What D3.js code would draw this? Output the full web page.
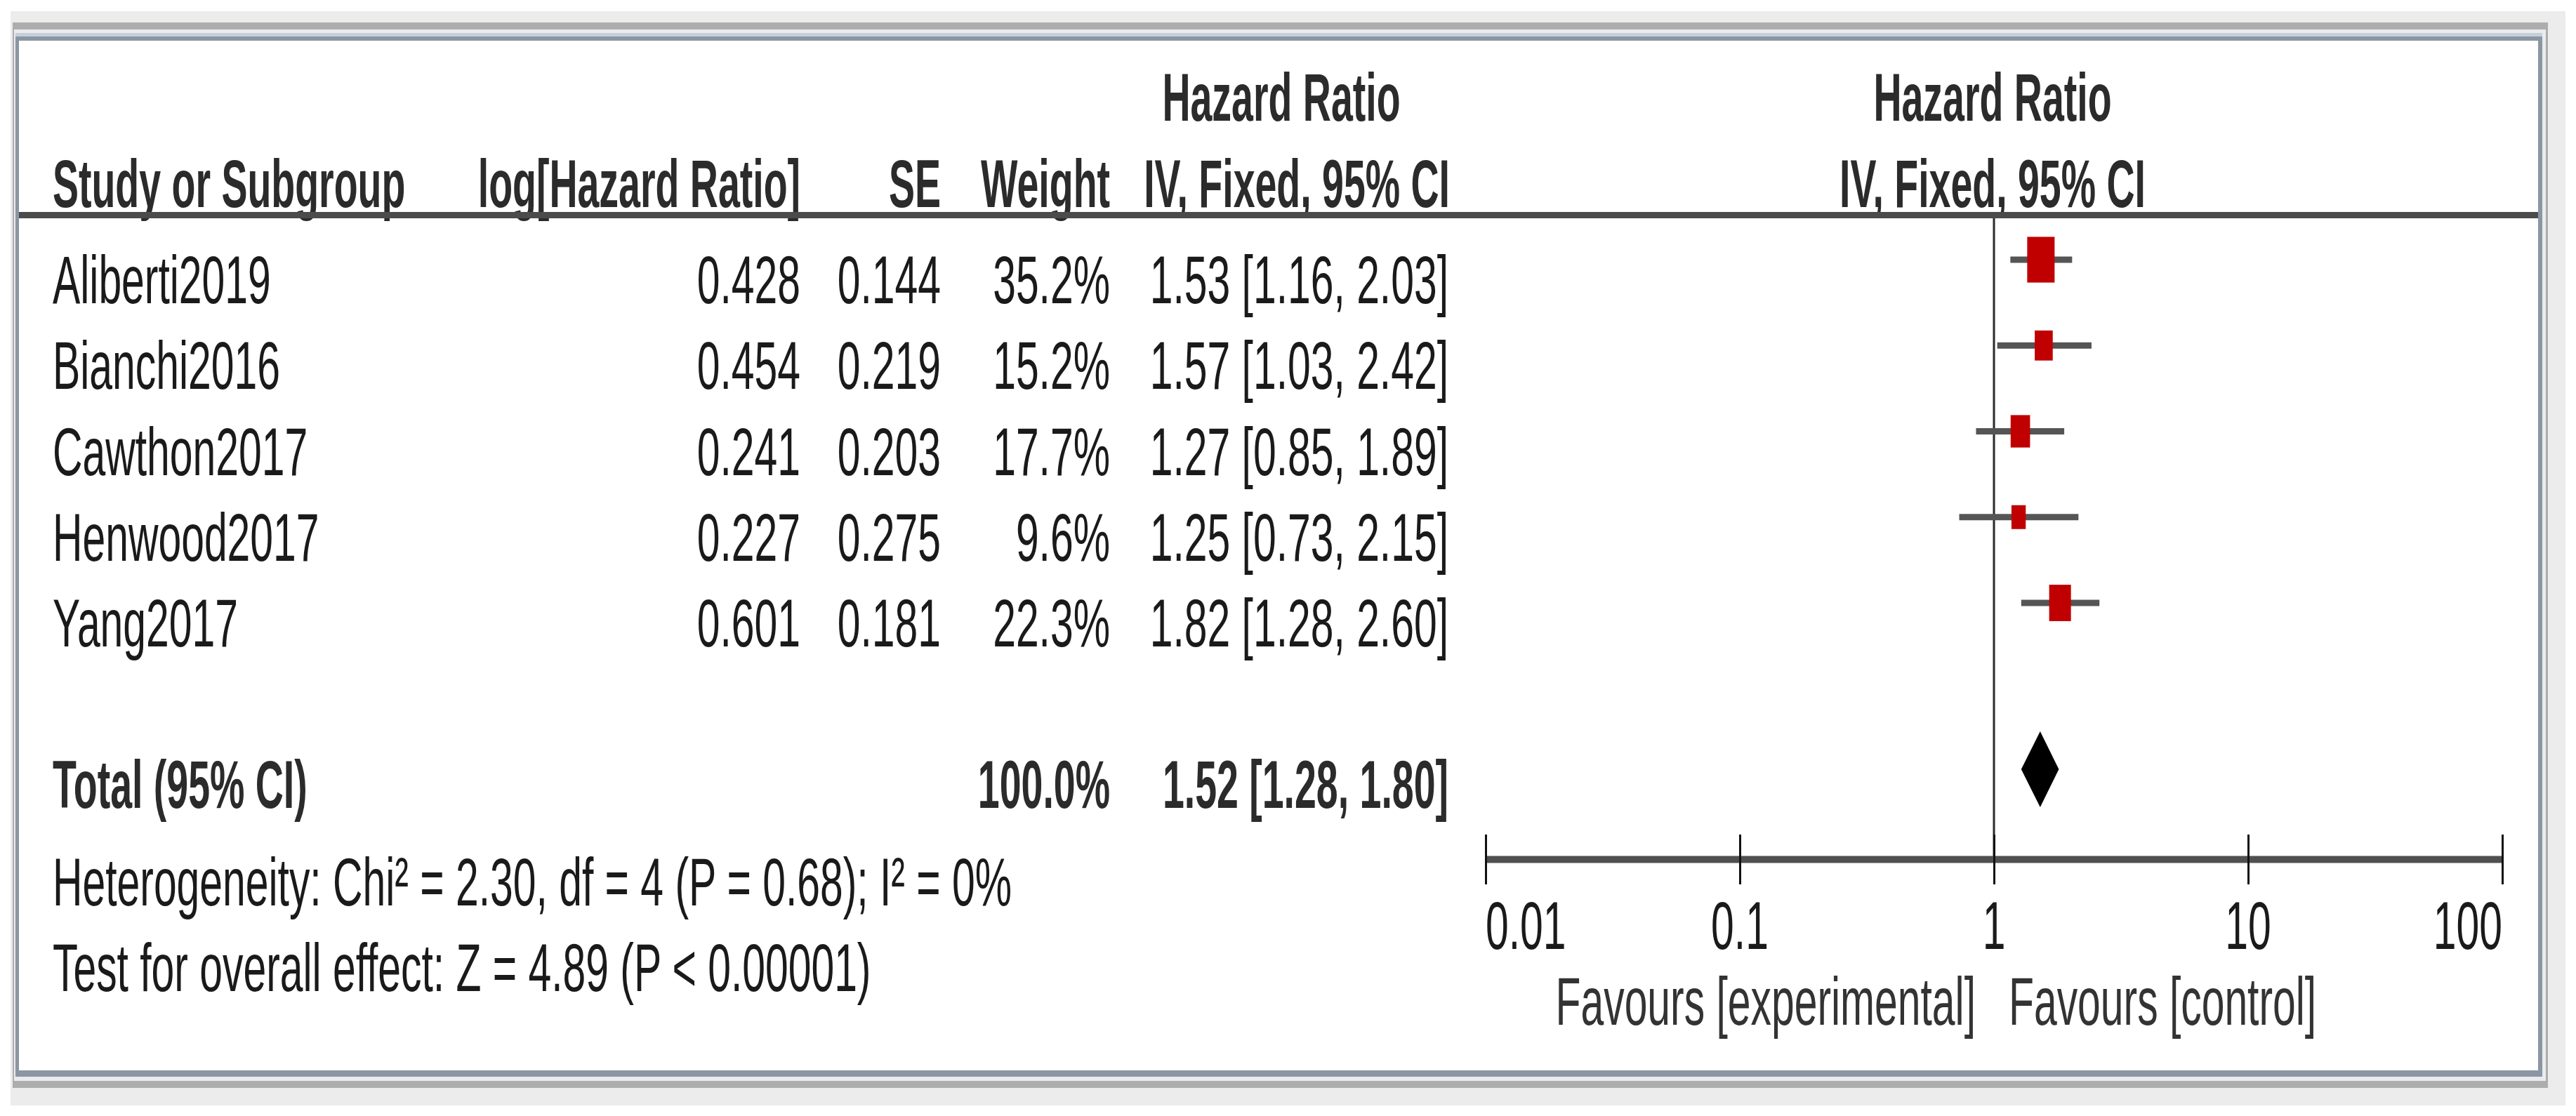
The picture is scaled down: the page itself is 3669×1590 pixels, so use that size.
<!DOCTYPE html>
<html>
<head>
<meta charset="utf-8">
<script src="https://cdnjs.cloudflare.com/ajax/libs/d3/7.8.5/d3.min.js"></script>
<style>
  html, body { margin: 0; padding: 0; background: #ffffff; }
  svg { display: block; }
</style>
</head>
<body>
<script>
// ---------------- data ----------------
const studies = ["Aliberti2019", "Bianchi2016", "Cawthon2017", "Henwood2017", "Yang2017"];
const logHR   = [0.428, 0.454, 0.241, 0.227, 0.601];
const seVals  = [0.144, 0.219, 0.203, 0.275, 0.181];
const weights = [35.2, 15.2, 17.7, 9.6, 22.3];
const hrVals  = [1.53, 1.57, 1.27, 1.25, 1.82];
const ciLow   = [1.16, 1.03, 0.85, 0.73, 1.28];
const ciHigh  = [2.03, 2.42, 1.89, 2.15, 2.60];
const totalLabel = "Total (95% CI)";
const totalWeight = 100.0;
const totalHR = [1.52, 1.28, 1.80];   // estimate, lower, upper
const heterogeneityText = "Heterogeneity: Chi\u00B2 = 2.30, df = 4 (P = 0.68); I\u00B2 = 0%";
const overallText = "Test for overall effect: Z = 4.89 (P < 0.00001)";
const tickValues = [0.01, 0.1, 1, 10, 100];
const tickLabels = ["0.01", "0.1", "1", "10", "100"];
const favoursLeft = "Favours [experimental]";
const favoursRight = "Favours [control]";
const headerTop = ["Hazard Ratio", "Hazard Ratio"];
const headerBottom = ["Study or Subgroup", "log[Hazard Ratio]", "SE", "Weight", "IV, Fixed, 95% CI", "IV, Fixed, 95% CI"];

// ---------------- layout ----------------
const W = 3669, H = 1590;
const FONT = "'Liberation Sans', Arial, Helvetica, sans-serif";
const FS = 96;
const SX_REG = 0.613, SX_BOLD = 0.578;

const svg = d3.select("body").append("svg")
  .attr("width", W).attr("height", H)
  .attr("viewBox", `0 0 ${W} ${H}`);

// frame (window-like border)
const frame = [
  {x: 15, y: 16, x2: 3654, y2: 1575, fill: "#ececec"},
  {x: 18, y: 32, x2: 3629, y2: 1550, fill: "#adadad"},
  {x: 20, y: 42, x2: 3626, y2: 1540, fill: "#e9ebee"},
  {x: 22, y: 47, x2: 3621, y2: 1534, fill: "#c6cfd9"},
  {x: 22, y: 52, x2: 3621, y2: 1534, fill: "#8b96a3"},
  {x: 27, y: 58, x2: 3615, y2: 1525, fill: "#ffffff"}
];
svg.selectAll("rect.frame").data(frame).join("rect")
  .attr("class", "frame")
  .attr("x", d => d.x).attr("y", d => d.y)
  .attr("width", d => d.x2 - d.x).attr("height", d => d.y2 - d.y)
  .attr("fill", d => d.fill);

function txt(g, x, y, s, opts = {}) {
  const bold = !!opts.bold;
  return g.append("text")
    .attr("transform", `translate(${x},${y}) scale(${bold ? SX_BOLD : SX_REG},1)`)
    .attr("text-anchor", opts.anchor || "start")
    .attr("font-family", FONT)
    .attr("font-size", opts.size || FS)
    .attr("font-weight", bold ? "bold" : "normal")
    .attr("fill", opts.fill || "#1a1a1a")
    .text(s);
}

const g = svg.append("g");

// column positions
const colStudy = 75, colLog = 1140, colSE = 1340, colW = 1581, colCI = 2063;
const hdrRow1 = 172, hdrRow2 = 295;

// header
const hdrFill = "#2b2b2b";
txt(g, 1825, hdrRow1, headerTop[0], {bold: true, anchor: "middle", fill: hdrFill});
txt(g, 2838, hdrRow1, headerTop[1], {bold: true, anchor: "middle", fill: hdrFill});
txt(g, colStudy, hdrRow2, headerBottom[0], {bold: true, fill: hdrFill});
txt(g, colLog, hdrRow2, headerBottom[1], {bold: true, anchor: "end", fill: hdrFill});
txt(g, colSE, hdrRow2, headerBottom[2], {bold: true, anchor: "end", fill: hdrFill});
txt(g, colW, hdrRow2, headerBottom[3], {bold: true, anchor: "end", fill: hdrFill});
txt(g, 2065, hdrRow2, headerBottom[4], {bold: true, anchor: "end", fill: hdrFill});
txt(g, 2838, hdrRow2, headerBottom[5], {bold: true, anchor: "middle", fill: hdrFill});

// header rule
g.append("line")
  .attr("x1", 27).attr("x2", 3615)
  .attr("y1", 306.5).attr("y2", 306.5)
  .attr("stroke", "#4b4b4b").attr("stroke-width", 9);

// row scale (baselines)
const yRow = d3.scaleLinear().domain([0, studies.length - 1]).range([432, 921]);
const markerOffset = -62;

// study rows text
studies.forEach((s, i) => {
  const y = yRow(i);
  txt(g, colStudy, y, s);
  txt(g, colLog, y, logHR[i].toFixed(3), {anchor: "end"});
  txt(g, colSE, y, seVals[i].toFixed(3), {anchor: "end"});
  txt(g, colW, y, weights[i].toFixed(1) + "%", {anchor: "end"});
  txt(g, colCI, y, `${hrVals[i].toFixed(2)} [${ciLow[i].toFixed(2)}, ${ciHigh[i].toFixed(2)}]`, {anchor: "end"});
});

// total row
const yTotal = 1151;
txt(g, colStudy, yTotal, totalLabel, {bold: true, fill: hdrFill});
txt(g, colW, yTotal, totalWeight.toFixed(1) + "%", {bold: true, anchor: "end", fill: hdrFill});
txt(g, colCI, yTotal, `${totalHR[0].toFixed(2)} [${totalHR[1].toFixed(2)}, ${totalHR[2].toFixed(2)}]`, {bold: true, anchor: "end", fill: hdrFill});

// footnotes
txt(g, 75, 1290, heterogeneityText);
txt(g, 75, 1412, overallText);

// ---------------- forest plot ----------------
const x = d3.scaleLog().domain([0.01, 100]).range([2116, 3564]);
const axisY = 1224;

// null line
g.append("line")
  .attr("x1", x(1)).attr("x2", x(1))
  .attr("y1", 311).attr("y2", axisY)
  .attr("stroke", "#2a2a2a").attr("stroke-width", 3);

// CI lines
const ciData = studies.map((s, i) => ({i, lo: ciLow[i], hi: ciHigh[i], hr: hrVals[i], w: weights[i]}));
g.selectAll("line.ci").data(ciData).join("line")
  .attr("class", "ci")
  .attr("x1", d => x(d.lo)).attr("x2", d => x(d.hi))
  .attr("y1", d => yRow(d.i) + markerOffset).attr("y2", d => yRow(d.i) + markerOffset)
  .attr("stroke", "#555555").attr("stroke-width", 9);

// weight squares
const size = d3.scaleSqrt().domain([0, d3.max(weights)]).range([0, 39]);
const aspect = 1.67;
g.selectAll("rect.sq").data(ciData).join("rect")
  .attr("class", "sq")
  .attr("x", d => x(d.hr) - size(d.w) / 2)
  .attr("y", d => yRow(d.i) + markerOffset - size(d.w) * aspect / 2)
  .attr("width", d => size(d.w))
  .attr("height", d => size(d.w) * aspect)
  .attr("fill", "#c00000");

// diamond
const dY = 1096, dH = 54;
g.append("path")
  .attr("d", `M${x(totalHR[1])},${dY} L${x(totalHR[0])},${dY - dH} L${x(totalHR[2])},${dY} L${x(totalHR[0])},${dY + dH} Z`)
  .attr("fill", "#000000");

// axis
const axis = d3.axisBottom(x)
  .tickValues(tickValues)
  .tickSizeInner(36)
  .tickSizeOuter(0)
  .tickFormat((d, i) => tickLabels[i]);
const ax = g.append("g").attr("transform", `translate(0,${axisY})`).call(axis);
ax.select(".domain").attr("stroke", "#4f4f4f").attr("stroke-width", 10);
ax.selectAll(".tick line")
  .attr("y1", -35).attr("y2", 36)
  .attr("stroke", "#111").attr("stroke-width", 3);
ax.selectAll(".tick text").remove();
tickValues.forEach((v, i) => {
  const anchor = i === 0 ? "start" : (i === tickValues.length - 1 ? "end" : "middle");
  txt(g, x(v), 1352, tickLabels[i], {anchor});
});

// favours labels
txt(g, x(1) - 26, 1460, favoursLeft, {anchor: "end", fill: "#333"});
txt(g, x(1) + 21, 1460, favoursRight, {anchor: "start", fill: "#333"});
</script>
</body>
</html>
